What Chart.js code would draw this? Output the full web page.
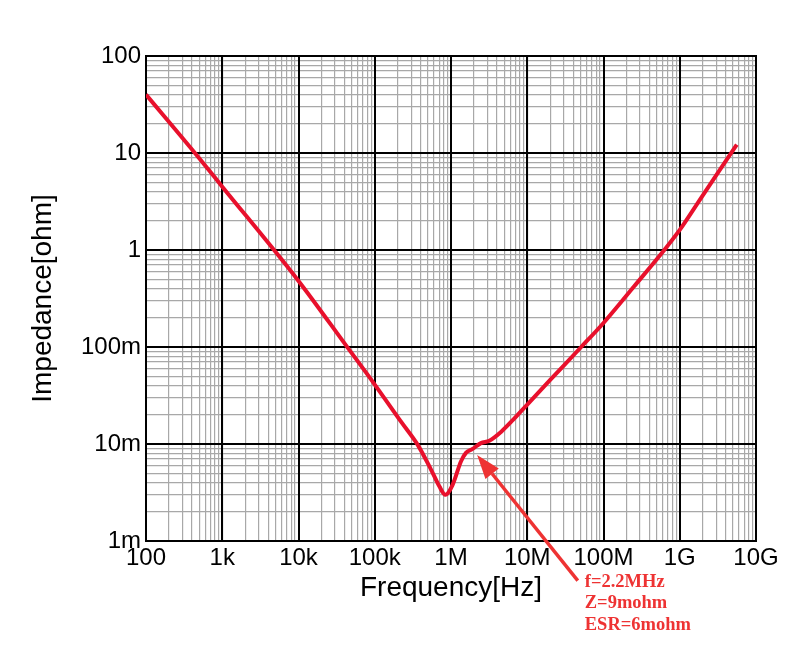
<!DOCTYPE html>
<html>
<head>
<meta charset="utf-8">
<script src="https://cdn.jsdelivr.net/npm/chart.js@4"></script>
<style>
  html, body { margin: 0; padding: 0; background: #fff; }
  #wrap { width: 810px; height: 665px; }
</style>
</head>
<body>
<div id="wrap"><canvas id="impChart"></canvas></div>
<script>
// impedance curve
const freqHz = [100, 438, 1e3, 1e4, 4.27e4, 1e5, 2.21e5, 3.66e5, 5.47e5, 7.03e5, 8.42e5,
  1.05e6, 1.35e6, 1.57e6, 1.92e6, 2.47e6, 3.18e6, 4.56e6, 6.5e6, 1e7, 2e7, 5.1e7,
  1e8, 2.51e8, 6.27e8, 1e9, 1.88e9, 3.44e9, 5.6e9];
const impedanceOhm = [40, 10, 4.5, 0.48, 0.102, 0.041, 0.017, 0.0098, 0.00545, 0.00366, 0.0030,
  0.0038, 0.0066, 0.0081, 0.0089, 0.0102, 0.0108, 0.0134, 0.0177, 0.0255, 0.0457, 0.1,
  0.177, 0.42, 1.0, 1.61, 3.39, 6.9, 12.2];

const xDecades = [1e2, 1e3, 1e4, 1e5, 1e6, 1e7, 1e8, 1e9, 1e10];
const xTickLabels = ['100', '1k', '10k', '100k', '1M', '10M', '100M', '1G', '10G'];
const yDecades = [1e-3, 1e-2, 1e-1, 1, 10, 100];
const yTickLabels = ['1m', '10m', '100m', '1', '10', '100'];

// annotation: arrow from the note up to the marked point
const noteLines = ['f=2.2MHz', 'Z=9mohm', 'ESR=6mohm'];
const arrowTip = { hz: 2.2e6, ohm: 0.0077 };
const arrowTail = { hz: 4.6e7, ohm: 0.00039 };

const curveColor = '#e8102c';
const noteColor = '#ee3333';

function logTicks(decades, labels) {
  const ticks = [];
  decades.forEach((d, i) => {
    ticks.push({ value: d, label: labels[i], major: true });
    if (i < decades.length - 1) {
      for (let m = 2; m <= 9; m++) ticks.push({ value: d * m, label: '', major: false });
    }
  });
  return ticks;
}

const overlay = {
  id: 'overlay',
  beforeDatasetsDraw(chart) {
    const { ctx, chartArea: a, scales: { x, y } } = chart;
    ctx.save();
    ctx.strokeStyle = '#000';
    ctx.lineWidth = 2;
    ctx.beginPath();
    xDecades.forEach(v => {
      const px = Math.round(x.getPixelForValue(v));
      ctx.moveTo(px, a.top - 1);
      ctx.lineTo(px, a.bottom + 1);
    });
    yDecades.forEach(v => {
      const py = Math.round(y.getPixelForValue(v));
      ctx.moveTo(a.left - 1, py);
      ctx.lineTo(a.right + 1, py);
    });
    ctx.stroke();
    ctx.restore();
  },
  afterDraw(chart) {
    const { ctx, scales: { x, y } } = chart;
    const tx = x.getPixelForValue(arrowTip.hz), ty = y.getPixelForValue(arrowTip.ohm);
    const sx = x.getPixelForValue(arrowTail.hz), sy = y.getPixelForValue(arrowTail.ohm);
    const ang = Math.atan2(ty - sy, tx - sx);
    const headLen = 24, headHalf = 8.5;
    const bx = tx - headLen * Math.cos(ang), by = ty - headLen * Math.sin(ang);

    ctx.save();
    ctx.strokeStyle = noteColor;
    ctx.fillStyle = noteColor;
    ctx.lineWidth = 3.5;
    ctx.beginPath();
    ctx.moveTo(sx, sy);
    ctx.lineTo(bx, by);
    ctx.stroke();
    ctx.beginPath();
    ctx.moveTo(tx, ty);
    ctx.lineTo(bx + headHalf * Math.sin(ang), by - headHalf * Math.cos(ang));
    ctx.lineTo(bx - headHalf * Math.sin(ang), by + headHalf * Math.cos(ang));
    ctx.closePath();
    ctx.fill();

    ctx.font = 'bold 18.5px "Liberation Serif", "DejaVu Serif", serif';
    ctx.textAlign = 'left';
    ctx.textBaseline = 'alphabetic';
    noteLines.forEach((t, i) => ctx.fillText(t, sx + 7, sy + 6 + i * 21.7));
    ctx.restore();
  }
};

const tickFont = { family: '"Liberation Sans", Arial, sans-serif', size: 24 };
const titleFont = { family: '"Liberation Sans", Arial, sans-serif', size: 28 };

new Chart(document.getElementById('impChart'), {
  type: 'line',
  data: {
    datasets: [{
      data: freqHz.map((f, i) => ({ x: f, y: impedanceOhm[i] })),
      borderColor: curveColor,
      borderWidth: 4,
      pointRadius: 0,
      cubicInterpolationMode: 'monotone',
      fill: false
    }]
  },
  options: {
    responsive: true,
    maintainAspectRatio: false,
    animation: false,
    layout: { padding: { left: 18, right: 54, top: 56, bottom: 60 } },
    plugins: { legend: { display: false }, tooltip: { enabled: false } },
    scales: {
      x: {
        type: 'logarithmic',
        min: 1e2,
        max: 1e10,
        afterBuildTicks: s => { s.ticks = logTicks(xDecades, xTickLabels); },
        afterFit: s => { s.height = 64; },
        border: { display: false },
        grid: { color: '#a8a8a8', lineWidth: 1.2, drawTicks: false },
        ticks: {
          autoSkip: false,
          maxRotation: 0,
          padding: 3,
          color: '#000',
          font: tickFont,
          callback: (v, i, ticks) => ticks[i].label
        },
        title: { display: true, text: 'Frequency[Hz]', color: '#000', font: titleFont, padding: { top: 0, bottom: 0 } }
      },
      y: {
        type: 'logarithmic',
        min: 1e-3,
        max: 1e2,
        afterBuildTicks: s => { s.ticks = logTicks(yDecades, yTickLabels); },
        afterFit: s => { s.width = 128; },
        border: { display: false },
        grid: { color: '#a8a8a8', lineWidth: 1.2, drawTicks: false },
        ticks: {
          autoSkip: false,
          padding: 5,
          color: '#000',
          font: tickFont,
          callback: (v, i, ticks) => ticks[i].label
        },
        title: { display: true, text: 'Impedance[ohm]', color: '#000', font: titleFont, padding: { top: 8, bottom: 0 } }
      }
    }
  },
  plugins: [overlay]
});
</script>
</body>
</html>
